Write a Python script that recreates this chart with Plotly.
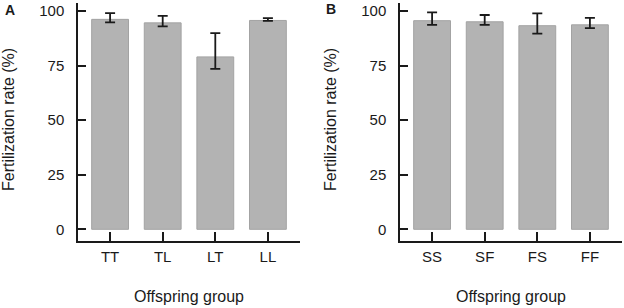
import plotly.graph_objects as go

groups_a = ["TT", "TL", "LT", "LL"]
mean_a = [96.2, 94.6, 79.0, 95.7]
upper_a = [99.1, 97.8, 89.9, 96.8]
lower_a = [94.8, 93.0, 73.5, 95.5]

groups_b = ["SS", "SF", "FS", "FF"]
mean_b = [95.6, 95.1, 93.3, 93.7]
upper_b = [99.4, 98.2, 98.9, 96.9]
lower_b = [93.7, 93.7, 89.7, 92.2]

y_ticks = [0, 25, 50, 75, 100]
y_title = "Fertilization rate (%)"
x_title = "Offspring group"
panel_labels = ["A", "B"]

W, H = 624, 308
FONT = "Liberation Sans, Arial, sans-serif"
BAR = "#b3b3b3"
EDGE = "#a3a3a3"
INK = "#1a1a1a"

fig = go.Figure()


def add_panel(cats, mean, upper, lower, xa, ya):
    fig.add_trace(go.Bar(
        x=cats, y=mean, width=0.7,
        marker=dict(color=BAR, line=dict(color=EDGE, width=1)),
        error_y=dict(type="data", symmetric=False,
                     array=[u - m for u, m in zip(upper, mean)],
                     arrayminus=[m - l for m, l in zip(mean, lower)],
                     color=INK, thickness=1.8, width=5),
        xaxis=xa, yaxis=ya, showlegend=False, hoverinfo="skip",
    ))


add_panel(groups_a, mean_a, upper_a, lower_a, "x", "y")
add_panel(groups_b, mean_b, upper_b, lower_b, "x2", "y2")

ydom = [1 - 241 / H, 1 - 3 / H]
xdomA = [78 / W, 300 / W]
xdomB = [400 / W, 622 / W]

common_x = dict(range=[-0.61, 3.61], showline=True, linecolor=INK, linewidth=1.5,
                ticks="inside", ticklen=9, tickwidth=1.5, tickcolor=INK,
                showgrid=False, zeroline=False, ticklabelstandoff=1,
                tickfont=dict(family=FONT, size=15, color=INK), fixedrange=True)
common_y = dict(range=[-5.36, 103.7], showline=True, linecolor=INK, linewidth=1.5,
                ticks="inside", ticklen=8, tickwidth=1.5, tickcolor=INK,
                tickvals=y_ticks, showgrid=False, zeroline=False, ticklabelstandoff=9,
                tickfont=dict(family=FONT, size=15, color=INK), fixedrange=True)

fig.update_layout(
    width=W, height=H,
    margin=dict(l=0, r=0, t=0, b=0),
    paper_bgcolor="white", plot_bgcolor="white",
    xaxis=dict(domain=xdomA, anchor="y", **common_x),
    yaxis=dict(domain=ydom, anchor="x", **common_y),
    xaxis2=dict(domain=xdomB, anchor="y2", **common_x),
    yaxis2=dict(domain=ydom, anchor="x2", **common_y),
    bargap=0.3,
)

annots = []
for axc, ytx in [(189, 8), (511, 330)]:
    annots.append(dict(text=x_title, x=axc / W, y=(H - 296) / H, xref="paper", yref="paper",
                       showarrow=False, xanchor="center", yanchor="middle",
                       font=dict(family=FONT, size=16, color=INK)))
    annots.append(dict(text=y_title, x=ytx / W, y=1 - 120 / H, xref="paper", yref="paper",
                       showarrow=False, xanchor="center", yanchor="middle", textangle=-90,
                       font=dict(family=FONT, size=16, color=INK)))
annots.append(dict(text="<b>" + panel_labels[0] + "</b>", x=3 / W, y=1 - 10 / H, xref="paper", yref="paper",
                   showarrow=False, xanchor="left", yanchor="middle",
                   font=dict(family=FONT, size=14, color=INK)))
annots.append(dict(text="<b>" + panel_labels[1] + "</b>", x=324 / W, y=1 - 9 / H, xref="paper", yref="paper",
                   showarrow=False, xanchor="left", yanchor="middle",
                   font=dict(family=FONT, size=14, color=INK)))
fig.update_layout(annotations=annots)

fig.write_html("out.html", config={"displayModeBar": False},
               post_script="document.body.style.margin='0';")
